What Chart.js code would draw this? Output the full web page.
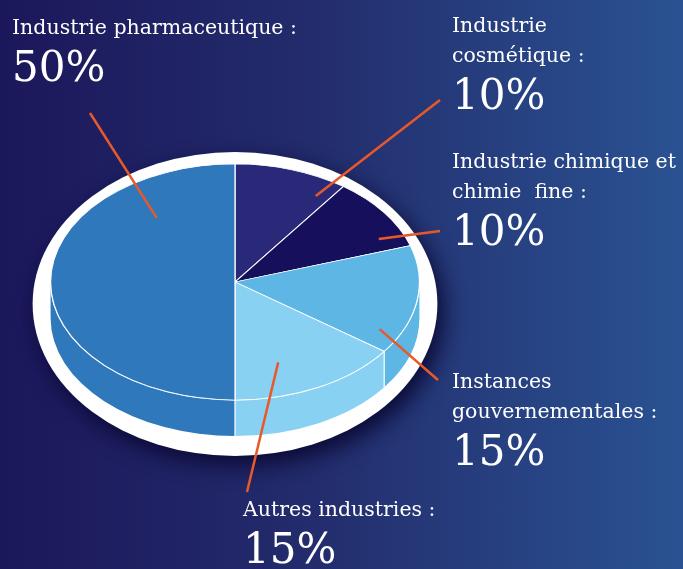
<!DOCTYPE html>
<html>
<head>
<title>Répartition par secteur</title>
<script src="https://cdn.jsdelivr.net/npm/chart.js"></script>
<style>
    body { margin: 0; }
    #wrap {
        position: relative; width: 683px; height: 569px; overflow: hidden;
        background: linear-gradient(90deg, #1b175b 0%, #232c6c 45%, #2a5292 100%);
        font-family: "DejaVu Serif", serif; color: #fff;
    }
    canvas { position: absolute; left: 0; top: 0; }
    .lbl { position: absolute; font-size: 20.5px; line-height: 30px; white-space: pre; }
    .num { font-size: 42px; line-height: 50px; }
</style>
</head>
<body>
<div id="wrap"><canvas id="pie" width="683" height="569"></canvas></div>

<script>
    // data
    const sectors = ['Industrie cosmétique', 'Industrie chimique et chimie fine', 'Instances gouvernementales', 'Autres industries', 'Industrie pharmaceutique'];
    const shares = [10, 10, 15, 15, 50];
    const labelLines = [
        ['Industrie', 'cosmétique :'],
        ['Industrie chimique et', 'chimie  fine :'],
        ['Instances', 'gouvernementales :'],
        ['Autres industries :'],
        ['Industrie pharmaceutique :']
    ];
    const sliceColors = ['#2a2878', '#160f5c', '#5eb6e5', '#88d1f2', '#2e78bb'];

    // layout (label boxes, leader line ends, where leaders touch the slices)
    const labelPos = [[452, 10], [452, 146], [452, 366], [243, 494], [12, 12]];
    const leaderEnd = [[440, 100], [440, 231], [438, 380], [247, 492], [90, 113]];
    const leaderAnchor = [[31, 0.85], [65, 0.86], [117, 0.88], [161, 0.72], [322, 0.69]]; // deg from top, share of radius
    const squash = 0.64;
    const depth = 36;

    const wrap = document.getElementById('wrap');
    labelLines.forEach((lines, i) => {
        const div = document.createElement('div');
        div.className = 'lbl';
        div.style.left = labelPos[i][0] + 'px';
        div.style.top = labelPos[i][1] + 'px';
        div.innerHTML = lines.map(l => `<div>${l}</div>`).join('') + `<div class="num">${shares[i]}%</div>`;
        wrap.appendChild(div);
    });

    const pie3d = {
        id: 'pie3d',
        beforeDatasetsDraw(chart) {
            const ctx = chart.ctx;
            const arcs = chart.getDatasetMeta(0).data;
            const {x, y, outerRadius: r} = arcs[0];
            const ry = r * squash;

            // white plate under the pie
            ctx.save();
            ctx.shadowColor = 'rgba(8, 6, 45, 0.9)';
            ctx.shadowBlur = 22;
            ctx.shadowOffsetX = 6;
            ctx.shadowOffsetY = 9;
            ctx.fillStyle = '#fff';
            ctx.beginPath();
            ctx.ellipse(x, y + 22, r + 18, ry + 34, 0, 0, Math.PI * 2);
            ctx.fill();
            ctx.restore();

            // side walls
            arcs.forEach(a => {
                const s = Math.max(a.startAngle, 0), e = Math.min(a.endAngle, Math.PI);
                if (e <= s) return;
                ctx.beginPath();
                ctx.ellipse(x, y, r, ry, 0, s, e);
                ctx.ellipse(x, y + depth, r, ry, 0, e, s, true);
                ctx.closePath();
                ctx.fillStyle = a.options.backgroundColor;
                ctx.fill();
            });
            ctx.strokeStyle = '#fff';
            ctx.lineWidth = 1.2;
            ctx.beginPath();
            ctx.ellipse(x, y, r, ry, 0, 0, Math.PI);
            ctx.stroke();
            arcs.forEach(a => {
                if (a.endAngle > 0 && a.endAngle < Math.PI) {
                    const px = x + Math.cos(a.endAngle) * r, py = y + Math.sin(a.endAngle) * ry;
                    ctx.beginPath();
                    ctx.moveTo(px, py);
                    ctx.lineTo(px, py + depth);
                    ctx.stroke();
                }
            });

            // squash the top face into an ellipse
            ctx.save();
            ctx.translate(0, y);
            ctx.scale(1, squash);
            ctx.translate(0, -y);
        },
        afterDatasetsDraw(chart) {
            const ctx = chart.ctx;
            ctx.restore();
            const arcs = chart.getDatasetMeta(0).data;
            const {x, y, outerRadius: r} = arcs[0];
            const ry = r * squash;
            ctx.save();
            ctx.strokeStyle = '#e8592a';
            ctx.lineWidth = 2.5;
            arcs.forEach((a, i) => {
                const t = leaderAnchor[i][0] * Math.PI / 180, f = leaderAnchor[i][1];
                ctx.beginPath();
                ctx.moveTo(x + Math.sin(t) * r * f, y - Math.cos(t) * ry * f);
                ctx.lineTo(leaderEnd[i][0], leaderEnd[i][1]);
                ctx.stroke();
            });
            ctx.restore();
        }
    };

    new Chart(document.getElementById('pie'), {
        type: 'pie',
        data: {
            labels: sectors,
            datasets: [{
                data: shares,
                backgroundColor: sliceColors,
                borderColor: '#ffffff',
                borderWidth: 1.2,
                clip: false
            }]
        },
        options: {
            responsive: false,
            animation: false,
            events: [],
            layout: { padding: { left: 50, top: 97, right: 263, bottom: 102 } },
            plugins: {
                legend: { display: false },
                tooltip: { enabled: false }
            }
        },
        plugins: [pie3d]
    });
</script>
</body>
</html>
